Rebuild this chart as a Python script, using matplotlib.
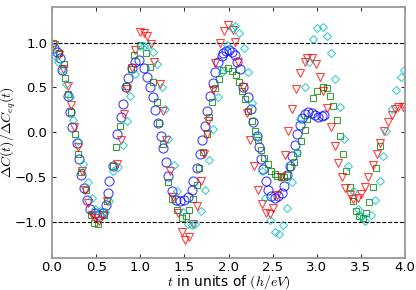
import numpy as np
import matplotlib
matplotlib.use("Agg")
import matplotlib.pyplot as plt

plt.rcParams['mathtext.fontset'] = 'cm'

# blue circles
t_blue = [0.02, 0.06, 0.09, 0.11, 0.18, 0.20, 0.23, 0.28, 0.31, 0.33, 0.36, 0.40, 0.43, 0.49,
          0.53, 0.58, 0.61, 0.63, 0.65, 0.69, 0.74, 0.78, 0.80, 0.84, 0.86, 0.91, 0.94, 0.99,
          1.04, 1.08, 1.11, 1.14, 1.17, 1.20, 1.24, 1.26, 1.29, 1.31, 1.36, 1.41, 1.45, 1.50,
          1.54, 1.58, 1.60, 1.64, 1.68, 1.70, 1.73, 1.76, 1.79, 1.82, 1.85, 1.88, 1.92, 1.94,
          1.97, 2.01, 2.04, 2.07, 2.10, 2.13, 2.16, 2.22, 2.25, 2.28, 2.32, 2.35, 2.37, 2.39,
          2.42, 2.45, 2.48, 2.53, 2.56, 2.61, 2.63, 2.66, 2.69, 2.72, 2.75, 2.78, 2.81, 2.83,
          2.87, 2.90, 2.95, 2.98, 3.01, 3.06, 3.08]
c_blue = [0.945, 0.90, 0.83, 0.70, 0.40, 0.23, 0.06, -0.12, -0.30, -0.48, -0.62, -0.76, -0.86, -0.90,
          -0.93, -0.90, -0.81, -0.68, -0.55, -0.38, -0.02, 0.17, 0.31, 0.50, 0.61, 0.72, 0.79, 0.81,
          0.72, 0.62, 0.51, 0.39, 0.25, 0.10, -0.04, -0.18, -0.33, -0.49, -0.66, -0.76, -0.77, -0.76,
          -0.72, -0.65, -0.54, -0.40, -0.24, -0.09, 0.07, 0.24, 0.40, 0.55, 0.67, 0.78, 0.85, 0.89,
          0.91, 0.92, 0.90, 0.86, 0.79, 0.71, 0.51, 0.39, 0.26, 0.12, -0.04, -0.16, -0.30, -0.41,
          -0.55, -0.65, -0.71, -0.73, -0.71, -0.68, -0.60, -0.48, -0.38, -0.27, -0.14, -0.02, 0.08, 0.16,
          0.20, 0.23, 0.22, 0.19, 0.17, 0.18, 0.19]

# green squares
t_green = [0.01, 0.08, 0.14, 0.15, 0.18, 0.22, 0.26, 0.29, 0.33, 0.39, 0.44, 0.48, 0.52, 0.59,
           0.62, 0.69, 0.73, 0.77, 0.84, 0.90, 0.93, 1.00, 1.07, 1.11, 1.14, 1.19, 1.21, 1.26,
           1.31, 1.36, 1.42, 1.47, 1.52, 1.55, 1.60, 1.64, 1.67, 1.71, 1.75, 1.78, 1.81, 1.85,
           1.89, 1.94, 1.99, 2.04, 2.08, 2.12, 2.15, 2.19, 2.22, 2.27, 2.30, 2.33, 2.37, 2.40,
           2.45, 2.48, 2.52, 2.55, 2.59, 2.63, 2.66, 2.70, 2.74, 2.78, 2.82, 2.86, 2.89, 2.96,
           3.00, 3.07, 3.12, 3.15, 3.18, 3.23, 3.26, 3.30, 3.33, 3.37, 3.41, 3.44, 3.48, 3.52,
           3.56, 3.59, 3.64, 3.67, 3.71]
c_green = [1.00, 0.89, 0.76, 0.61, 0.43, 0.23, -0.02, -0.24, -0.44, -0.65, -0.92, -1.01, -1.03, -0.93,
           -0.77, -0.38, -0.16, 0.07, 0.52, 0.71, 0.86, 0.98, 0.88, 0.73, 0.56, 0.34, 0.10, -0.13,
           -0.56, -0.75, -0.87, -0.96, -0.94, -0.87, -0.75, -0.59, -0.40, -0.22, -0.02, 0.17, 0.34, 0.49,
           0.59, 0.70, 0.72, 0.68, 0.64, 0.56, 0.46, 0.37, 0.24, 0.13, 0.01, -0.09, -0.20, -0.29,
           -0.35, -0.43, -0.47, -0.49, -0.50, -0.50, -0.48, -0.39, -0.33, -0.23, -0.10, 0.02, 0.15, 0.38,
           0.46, 0.51, 0.49, 0.40, 0.29, 0.14, -0.04, -0.24, -0.43, -0.61, -0.77, -0.88, -0.94, -0.96,
           -0.90, -0.78, -0.61, -0.40, -0.15]

# red down-triangles
t_red = [0.02, 0.08, 0.12, 0.18, 0.22, 0.25, 0.29, 0.34, 0.37, 0.41, 0.45, 0.49, 0.53, 0.58,
         0.62, 0.74, 0.78, 0.82, 0.85, 0.91, 0.94, 1.00, 1.04, 1.08, 1.12, 1.16, 1.22, 1.26,
         1.29, 1.34, 1.37, 1.43, 1.47, 1.51, 1.55, 1.60, 1.64, 1.69, 1.72, 1.75, 1.77, 1.82,
         1.85, 1.90, 1.95, 1.99, 2.05, 2.07, 2.11, 2.16, 2.21, 2.24, 2.29, 2.33, 2.38, 2.42,
         2.47, 2.50, 2.55, 2.59, 2.64, 2.67, 2.72, 2.76, 2.81, 2.86, 2.89, 2.95, 2.99, 3.03,
         3.07, 3.12, 3.16, 3.20, 3.24, 3.29, 3.32, 3.37, 3.41, 3.46, 3.50, 3.54, 3.58, 3.64,
         3.68, 3.72, 3.76, 3.81, 3.85, 3.89, 3.92, 3.97, 4.00]
c_red = [0.97, 0.86, 0.71, 0.52, 0.30, 0.06, -0.17, -0.43, -0.64, -0.79, -0.93, -0.96, -0.99, -0.93,
         -0.77, -0.35, -0.09, 0.20, 0.48, 0.72, 0.92, 1.12, 1.11, 1.08, 0.99, 0.78, 0.54, 0.24,
         -0.09, -0.43, -0.72, -0.90, -1.12, -1.20, -1.17, -1.03, -0.82, -0.55, -0.24, -0.02, 0.13, 0.47,
         0.77, 1.00, 1.13, 1.20, 1.14, 1.01, 0.79, 0.51, 0.22, -0.09, -0.38, -0.64, -0.80, -0.90,
         -0.91, -0.85, -0.70, -0.50, -0.25, 0.01, 0.26, 0.48, 0.66, 0.78, 0.83, 0.83, 0.76, 0.62,
         0.46, 0.27, 0.06, -0.15, -0.34, -0.50, -0.62, -0.70, -0.75, -0.73, -0.69, -0.61, -0.50, -0.37,
         -0.24, -0.12, 0.01, 0.12, 0.19, 0.26, 0.28, 0.28, 0.28]

# cyan diamonds
t_cyan = [0.01, 0.03, 0.07, 0.11, 0.16, 0.20, 0.24, 0.29, 0.35, 0.41, 0.45, 0.49, 0.54, 0.60,
          0.65, 0.69, 0.75, 0.80, 0.85, 0.88, 0.94, 1.00, 1.04, 1.09, 1.14, 1.19, 1.25, 1.28,
          1.31, 1.38, 1.42, 1.48, 1.54, 1.59, 1.62, 1.69, 1.73, 1.78, 1.82, 1.88, 1.93, 1.98,
          2.04, 2.07, 2.12, 2.18, 2.22, 2.27, 2.32, 2.38, 2.41, 2.47, 2.52, 2.57, 2.62, 2.66,
          2.72, 2.78, 2.81, 2.87, 2.91, 2.96, 3.00, 3.07, 3.12, 3.16, 3.21, 3.26, 3.31, 3.35,
          3.41, 3.46, 3.50, 3.55, 3.61, 3.66, 3.71, 3.75, 3.78, 3.85, 3.90, 3.95, 3.99]
c_cyan = [0.95, 0.85, 0.78, 0.70, 0.54, 0.39, 0.14, -0.10, -0.36, -0.56, -0.73, -0.86, -0.88, -0.89,
          -0.77, -0.43, -0.39, -0.14, 0.13, 0.40, 0.65, 0.96, 0.96, 0.97, 0.90, 0.76, 0.50, 0.26,
          -0.07, -0.37, -0.66, -0.89, -1.03, -1.04, -1.03, -0.88, -0.64, -0.31, 0.04, 0.39, 0.67, 0.98,
          1.17, 1.19, 1.11, 0.94, 0.67, 0.33, -0.04, -0.43, -0.73, -0.98, -1.11, -1.14, -1.04, -0.85,
          -0.56, -0.22, 0.15, 0.51, 0.79, 1.04, 1.17, 1.18, 1.08, 0.88, 0.60, 0.28, -0.07, -0.38,
          -0.66, -0.86, -0.94, -0.99, -0.92, -0.76, -0.54, -0.27, 0.01, 0.26, 0.47, 0.62, 0.70]

fig, ax = plt.subplots(figsize=(4.16, 2.90), dpi=100)
fig.subplots_adjust(left=0.125, right=0.974, top=0.976, bottom=0.112)

ax.axhline(1.0, color='k', ls='--', lw=0.8, zorder=1)
ax.axhline(-1.0, color='k', ls='--', lw=0.8, zorder=1)

kw = dict(ls='none', mfc='none', mew=0.8, alpha=0.75)
ax.plot(t_blue, c_blue, marker='o', mec='b', ms=6.5, **kw)
ax.plot(t_green, c_green, marker='s', mec='g', ms=5, **kw)
ax.plot(t_red, c_red, marker='v', mec='r', ms=5.5, **kw)
ax.plot(t_cyan, c_cyan, marker='D', mec='c', ms=4.5, **kw)

ax.set_xlim(0, 4.0)
ax.set_ylim(-1.4, 1.4)
ax.set_xticks(np.arange(0, 4.01, 0.5))
ax.set_yticks([-1.0, -0.5, 0.0, 0.5, 1.0])
ax.tick_params(direction='in', top=True, right=True, labelsize=9.5, length=3, width=0.6)
ax.tick_params(axis='x', pad=2.5)
for s in ax.spines.values():
    s.set_color('#999999')
    s.set_linewidth(1.3)

ax.set_xlabel(r'$t$ in units of $(h/eV)$', fontsize=10)
ax.set_ylabel(r'$\Delta C(t)/\Delta C_{eq}(t)$', fontsize=10)
ax.xaxis.set_label_coords(0.5, -0.062)
ax.yaxis.set_label_coords(-0.097, 0.5)

fig.savefig('out.png', dpi=100)
